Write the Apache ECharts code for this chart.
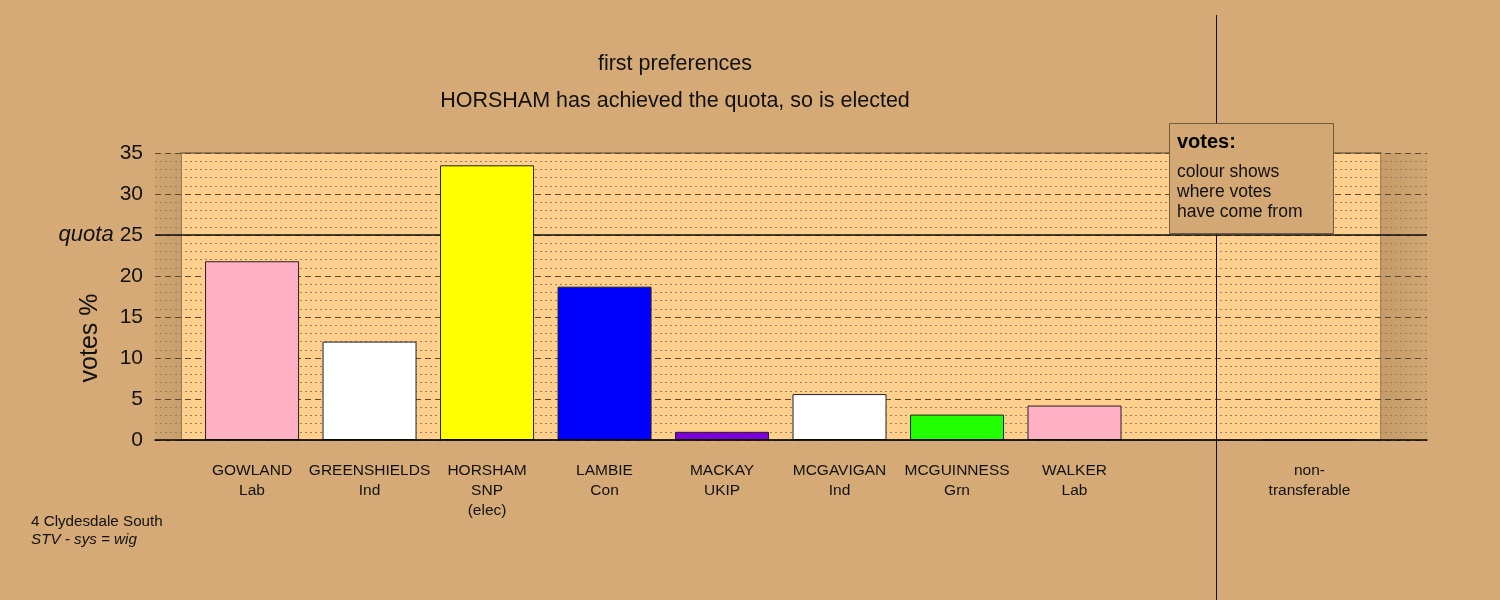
<!DOCTYPE html>
<html>
<head>
<meta charset="utf-8">
<script src="https://cdn.jsdelivr.net/npm/echarts@6/dist/echarts.min.js"></script>
<style>
html,body{margin:0;padding:0;background:#D5AA76;}
#c{width:1500px;height:600px;}
</style>
</head>
<body>
<div id="c"></div>
<script>
// ---- data ----
var candidates = ['GOWLAND', 'GREENSHIELDS', 'HORSHAM', 'LAMBIE', 'MACKAY', 'MCGAVIGAN', 'MCGUINNESS', 'WALKER', '', 'non-'];
var parties    = ['Lab', 'Ind', 'SNP\n(elec)', 'Con', 'UKIP', 'Ind', 'Grn', 'Lab', '', 'transferable'];
var votesPct   = [21.8, 12.0, 33.5, 18.7, 1.0, 5.6, 3.1, 4.2, null, 0];
var barColors  = ['#FFB0C4', '#FFFFFF', '#FFFF00', '#0000FF', '#7F00DD', '#FFFFFF', '#22FF00', '#FFB0C4', '#000000', '#FFFFFF'];
var yTicks     = [0, 5, 10, 15, 20, 25, 30, 35];
var quota      = 25;
var titleLine1 = 'first preferences';
var titleLine2 = 'HORSHAM has achieved the quota, so is elected';
var footer1    = '4 Clydesdale South';
var footer2    = 'STV - sys = wig';
var legendTitle = 'votes:';
var legendLines = ['colour shows', 'where votes', 'have come from'];

var FONT = '"Liberation Sans", Arial, Helvetica, sans-serif';
var chart = echarts.init(document.getElementById('c'));

var barData = [];
votesPct.forEach(function (v, i) {
  if (v === null) return;
  barData.push({ value: [i, v], itemStyle: { color: barColors[i] } });
});

function strip(dir) {
  return new echarts.graphic.LinearGradient(0, 0, 1, 0, dir ? [
    { offset: 0, color: '#C59B69' }, { offset: 1, color: '#D0A673' }
  ] : [
    { offset: 0, color: '#CFA572' }, { offset: 1, color: '#C89E6C' }
  ]);
}

var option = {
  backgroundColor: '#D5AA76',
  animation: false,
  textStyle: { fontFamily: FONT },
  grid: { left: 155, right: 73, top: 153, bottom: 160 },
  xAxis: {
    type: 'value',
    min: -0.826,
    max: 10.0,
    z: 6,
    axisLine: { show: true, onZero: true, lineStyle: { color: '#000', width: 1.5 } },
    axisTick: { show: false },
    splitLine: { show: false },
    axisLabel: {
      show: true,
      customValues: [0, 1, 2, 3, 4, 5, 6, 7, 9],
      margin: 21,
      color: '#111',
      fontSize: 15.5,
      lineHeight: 20,
      fontFamily: FONT,
      verticalAlign: 'top',
      formatter: function (v) {
        var i = Math.round(v);
        return candidates[i] + '\n' + parties[i];
      }
    }
  },
  yAxis: {
    type: 'value',
    min: 0,
    max: 35,
    interval: 5,
    z: 2,
    axisLine: { show: false },
    axisTick: { show: false },
    axisLabel: {
      margin: 12,
      color: '#111',
      fontSize: 21,
      fontFamily: FONT,
      formatter: function (v) {
        return v === quota ? '{q|quota}' + v : '' + v;
      },
      rich: { q: { fontStyle: 'italic', fontSize: 22, fontFamily: FONT, color: '#111', padding: [0, 6, 0, 0] } }
    },
    splitLine: { show: true, lineStyle: { color: '#5e4a2e', width: 1, type: [6, 4] } },
    minorTick: { show: false, splitNumber: 5 },
    minorSplitLine: { show: true, lineStyle: { color: '#9a8058', width: 1, type: [2, 3] } }
  },
  series: [
    {
      type: 'line',
      data: [],
      z: 0,
      silent: true,
      markArea: {
        silent: true,
        z: 0,
        data: [
          [{ xAxis: -0.604, yAxis: 0, itemStyle: { color: '#FFCF8E', borderColor: '#7e6644', borderWidth: 1.5 } }, { xAxis: 9.609, yAxis: 35 }],
          [{ xAxis: -0.826, yAxis: 0, itemStyle: { color: strip(false) } }, { xAxis: -0.604, yAxis: 35 }],
          [{ xAxis: 9.609, yAxis: 0, itemStyle: { color: strip(true) } }, { xAxis: 10.0, yAxis: 35 }]
        ]
      }
    },
    {
      type: 'line',
      data: [],
      z: 3,
      silent: true,
      markLine: {
        silent: true,
        z: 3,
        symbol: 'none',
        label: { show: false },
        lineStyle: { color: '#111', width: 1.5, type: 'solid' },
        data: [{ yAxis: quota }]
      }
    },
    {
      type: 'bar',
      z: 4,
      barWidth: 94,
      data: barData,
      itemStyle: { borderColor: '#222', borderWidth: 1 }
    }
  ],
  graphic: [
    { type: 'line', z: 50, shape: { x1: 1216.5, y1: 15, x2: 1216.5, y2: 600 }, style: { stroke: '#111', lineWidth: 1 } },
    { type: 'rect', z: 60, shape: { x: 1169.5, y: 123.5, width: 164, height: 110 }, style: { fill: '#D4A874', stroke: '#6e5a3c', lineWidth: 1 } },
    { type: 'text', z: 61, x: 1177, y: 142, style: { text: legendTitle, font: 'bold 20px ' + FONT, fill: '#000', verticalAlign: 'middle' } },
    { type: 'text', z: 61, x: 1177, y: 162, style: { text: legendLines.join('\n'), font: '17.5px ' + FONT, lineHeight: 20, fill: '#111', verticalAlign: 'top' } },
    { type: 'text', x: 675, y: 64, style: { text: titleLine1, font: '21.5px ' + FONT, fill: '#111', align: 'center', verticalAlign: 'middle' } },
    { type: 'text', x: 675, y: 101, style: { text: titleLine2, font: '21.5px ' + FONT, fill: '#111', align: 'center', verticalAlign: 'middle' } },
    { type: 'text', x: 90, y: 338, rotation: Math.PI / 2, style: { text: 'votes %', font: '25px ' + FONT, fill: '#111', align: 'center', verticalAlign: 'middle' } },
    { type: 'text', x: 31, y: 522, style: { text: footer1, font: '15.2px ' + FONT, fill: '#111', verticalAlign: 'middle' } },
    { type: 'text', x: 31, y: 540, style: { text: footer2, font: 'italic 15.2px ' + FONT, fill: '#111', verticalAlign: 'middle' } }
  ]
};
chart.setOption(option);
</script>
</body>
</html>
